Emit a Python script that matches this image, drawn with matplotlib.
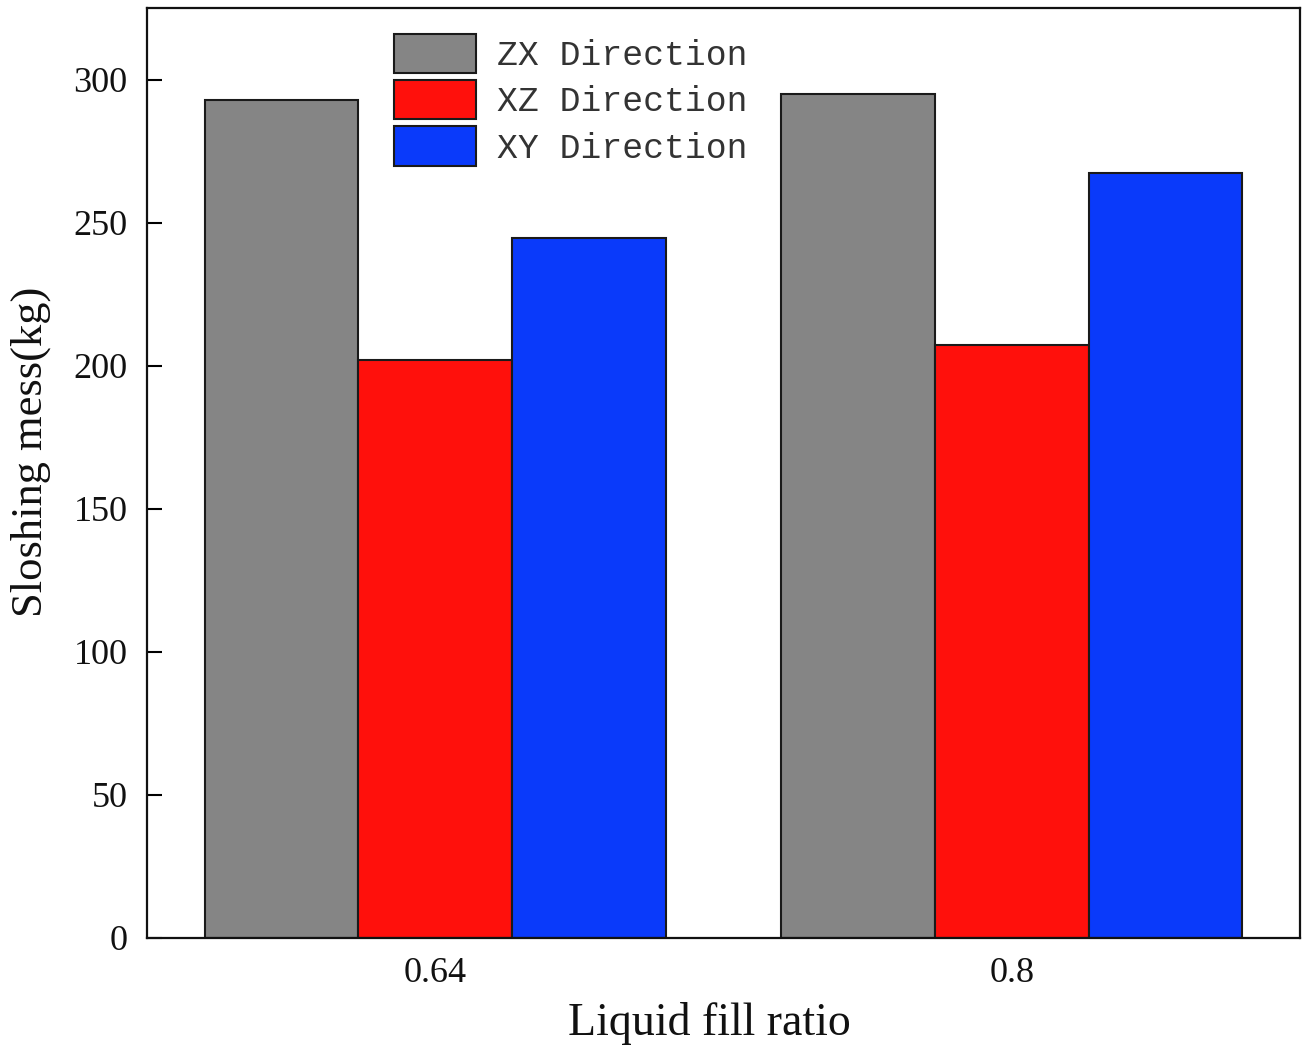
import matplotlib
matplotlib.use("Agg")
import matplotlib.pyplot as plt
import numpy as np

# Data
fill_ratios = ["0.64", "0.8"]
series_names = ["ZX Direction", "XZ Direction", "XY Direction"]
zx_mass = [293.0, 294.8]
xz_mass = [201.9, 207.1]
xy_mass = [244.5, 267.5]
colors = ["#858585", "#FF100C", "#0A3AFA"]

fig = plt.figure(figsize=(13.08, 10.52), dpi=100)
ax = fig.add_axes([0.1124, 0.1084, 0.8815, 0.884])

x = np.arange(len(fill_ratios))
width = 0.8 / 3
for i, (vals, name, c) in enumerate(zip([zx_mass, xz_mass, xy_mass], series_names, colors)):
    ax.bar(x + (i - 1) * width, vals, width, color=c, edgecolor="#1a1a1a",
           linewidth=1.5, label=name, zorder=2)

ax.set_xlim(-0.5, 1.5)
ax.set_ylim(0, 325)
ax.set_yticks(np.arange(0, 301, 50))
ax.set_xticks(x)
ax.set_xticklabels(fill_ratios)

serif = "Liberation Serif"
for lab in ax.get_xticklabels() + ax.get_yticklabels():
    lab.set_fontfamily(serif)
    lab.set_fontsize(26)
    lab.set_color("#111111")

ax.tick_params(axis="y", direction="in", length=11, width=1.5, pad=14)
ax.tick_params(axis="x", length=0, pad=14)
for sp in ax.spines.values():
    sp.set_linewidth(1.6)
    sp.set_color("#111111")

ax.set_xlabel("Liquid fill ratio", fontfamily=serif, fontsize=33, labelpad=8, color="#111111")
ax.set_ylabel("Sloshing mess(kg)", fontfamily=serif, fontsize=32, labelpad=16, color="#111111")
ax.xaxis.label.set_x(0.4874)
ax.yaxis.label.set_y(0.5226)

leg = ax.legend(loc="upper left", bbox_to_anchor=(0.2142, 0.972), frameon=False,
                prop={"family": "Liberation Mono", "size": 25},
                handlelength=2.36, handleheight=1.36, labelspacing=0.2,
                handletextpad=0.6, borderpad=0, borderaxespad=0)
for t in leg.get_texts():
    t.set_color("#333333")

fig.savefig("out.png", dpi=100)
